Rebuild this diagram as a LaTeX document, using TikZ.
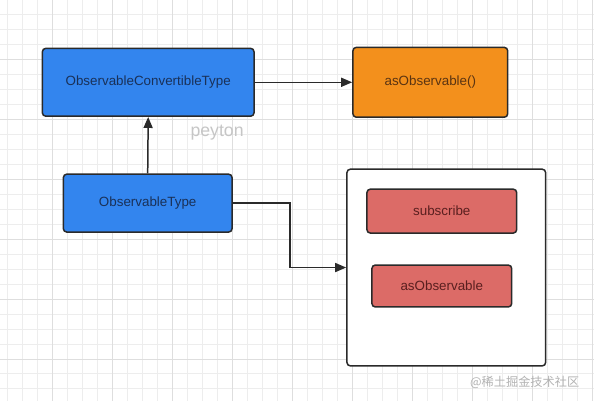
\documentclass[tikz,border=0pt]{standalone}
\usepackage{fontspec}
\setmainfont{Liberation Sans}
\newfontfamily\cjk{Noto Sans CJK SC}
\usepackage{xcolor}
\usetikzlibrary{arrows.meta}

\definecolor{typeblue}{HTML}{3385EE}
\definecolor{typetext}{HTML}{1A3158}
\definecolor{castorange}{HTML}{F3901C}
\definecolor{casttext}{HTML}{5A3412}
\definecolor{methodred}{HTML}{DC6B67}
\definecolor{methodtext}{HTML}{5A1F1F}
\definecolor{edgeline}{HTML}{2A2A2A}
\definecolor{minorgrid}{HTML}{EDEDED}
\definecolor{majorgrid}{HTML}{DEDEDE}

\begin{document}
\begin{tikzpicture}[x=1pt,y=1pt,
  box/.style={draw=edgeline,line width=1.5pt,rounded corners=3.5pt,
    inner sep=0pt,font=\fontsize{13.4}{15}\selectfont},
  typebox/.style={box,fill=typeblue,text=typetext},
  castbox/.style={box,fill=castorange,text=casttext},
  methodbox/.style={box,fill=methodred,text=methodtext},
  groupbox/.style={box,fill=white},
  link/.style={draw=edgeline,line width=1.5pt,-{Triangle[length=11pt,width=9pt]}}]
  \fill[white] (0,0) rectangle (594,401);
  \foreach \gx in {7.3,22.3,...,594}
    \draw[minorgrid,line width=0.8pt] (\gx,0) -- (\gx,401);
  \foreach \gy in {12,27,...,401}
    \draw[minorgrid,line width=0.8pt] (0,\gy) -- (594,\gy);
  \foreach \gx in {52.3,112.3,...,594}
    \draw[majorgrid,line width=0.8pt] (\gx,0) -- (\gx,401);
  \foreach \gy in {42,102,...,401}
    \draw[majorgrid,line width=0.8pt] (0,\gy) -- (594,\gy);

  \node[typebox,minimum width=212pt,minimum height=68pt] (convertible) at (148,319) {ObservableConvertibleType};
  \node[castbox,minimum width=155pt,minimum height=70pt] (asobservable) at (430.5,319) {asObservable()};
  \node[typebox,minimum width=169pt,minimum height=58pt] (observable) at (147.5,198) {ObservableType};
  \node[groupbox,minimum width=199pt,minimum height=197pt] (methods) at (446.5,133.5) {};
  \node[methodbox,minimum width=150pt,minimum height=44pt] (subscribe) at (442,190) {subscribe};
  \node[methodbox,minimum width=140pt,minimum height=42pt] (asobs) at (442,115) {asObservable};
  \node[text=gray!45,font=\fontsize{17.7}{20}\selectfont] (peyton) at (217,269) {peyton};
  \node[text=gray!60,font=\cjk\fontsize{12.2}{14}\selectfont] (mark) at (525,19) {@稀土掘金技术社区};

  \draw[link] (observable.north) -- (convertible.south);
  \draw[link] (convertible.east) -- (asobservable.west);
  \draw[link] (observable.east) -- ++(57,0) |- (methods.west);
\end{tikzpicture}
\end{document}
